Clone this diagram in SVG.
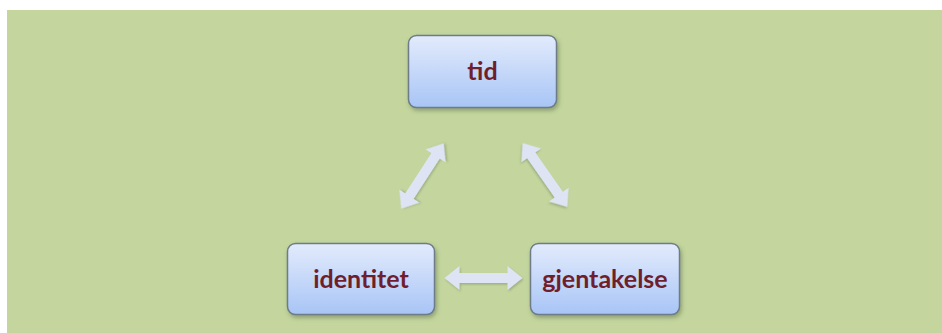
<svg xmlns="http://www.w3.org/2000/svg" width="942" height="333" viewBox="0 0 942 333">
  <defs>
    <linearGradient id="boxFill" x1="0" y1="0" x2="0" y2="1">
      <stop offset="0" stop-color="#e3ebfc"/>
      <stop offset="1" stop-color="#a8c5f6"/>
    </linearGradient>
    <filter id="boxShadow" x="-10%" y="-15%" width="125%" height="140%">
      <feDropShadow dx="1.5" dy="2.5" stdDeviation="2" flood-color="#4a5a3a" flood-opacity="0.45"/>
    </filter>
    <filter id="arrowShadow" x="-20%" y="-30%" width="140%" height="160%">
      <feDropShadow dx="1" dy="1.5" stdDeviation="1.2" flood-color="#6a7a5a" flood-opacity="0.45"/>
    </filter>
    <!-- double-headed block arrow, 78 px long, centred on the origin -->
    <path id="dblArrow" d="M-39,0 L-24,-12 L-24,-5 L24,-5 L24,-12 L39,0 L24,12 L24,5 L-24,5 L-24,12 Z"/>
  </defs>
  <style>
    .node rect { fill: url(#boxFill); stroke: #6d7b86; stroke-width: 1.5; filter: url(#boxShadow); }
    .node text { font-family: Lato, "Open Sans", "Liberation Sans", sans-serif; font-weight: 700; font-size: 25px; fill: #6f1f2c; text-anchor: middle; }
    .link use { fill: #dfe4f4; filter: url(#arrowShadow); }
  </style>

  <rect x="7" y="10" width="935" height="323" fill="#c4d69e"/>

  <g id="connectors" class="link">
    <use href="#dblArrow" transform="translate(422.5 176) rotate(-57)"/>
    <use href="#dblArrow" transform="translate(545 175) rotate(55)"/>
    <use href="#dblArrow" transform="translate(483.5 278)"/>
  </g>

  <g id="node-tid" class="node">
    <rect x="408.5" y="35.5" width="148" height="72" rx="8"/>
    <text x="482.5" y="80">tid</text>
  </g>
  <g id="node-identitet" class="node">
    <rect x="287.5" y="243.5" width="147" height="71" rx="8"/>
    <text x="361" y="288">identitet</text>
  </g>
  <g id="node-gjentakelse" class="node">
    <rect x="530.5" y="243.5" width="149" height="71" rx="8"/>
    <text x="605" y="288">gjentakelse</text>
  </g>
</svg>
